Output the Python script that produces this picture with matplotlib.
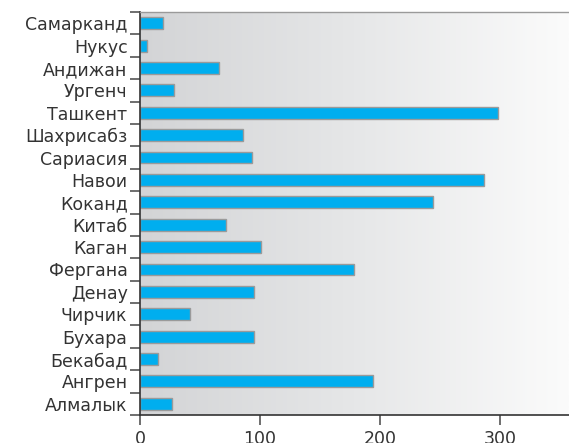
import numpy as np
import matplotlib

matplotlib.use("Agg")
import matplotlib.pyplot as plt  # noqa: E402

# data, top to bottom as in the picture
cities = [
    "Самарканд", "Нукус", "Андижан", "Ургенч", "Ташкент", "Шахрисабз",
    "Сариасия", "Навои", "Коканд", "Китаб", "Каган", "Фергана",
    "Денау", "Чирчик", "Бухара", "Бекабад", "Ангрен", "Алмалык",
]
values = [19, 6, 66, 28, 298, 86, 93, 287, 244, 72, 101, 178,
          95, 42, 95, 15, 194, 27]
x_ticks = [0, 100, 200, 300]

plt.rcParams["font.family"] = ["DejaVu Sans"]

fig = plt.figure(figsize=(5.69, 4.43), dpi=100)
ax = fig.add_axes([140 / 569, 28 / 443, 429 / 569, 403 / 443])

n = len(cities)
xmax = 357.5
ax.set_xlim(0, xmax)
ax.set_ylim(n - 0.5, -0.5)

# gradient background: gray on the left fading to white on the right
grad = np.linspace(0, 1, 256).reshape(1, -1)
cmap = matplotlib.colors.LinearSegmentedColormap.from_list(
    "bg", ["#d3d4d6", "#e6e7e8", "#fbfbfb"])
ax.imshow(grad, extent=[0, xmax, n - 0.5, -0.5], aspect="auto",
          cmap=cmap, zorder=0)

ax.barh(range(n), values, height=0.53, color="#00aeef",
        edgecolor="#9a9a9a", linewidth=1.0, zorder=2)

# category ticks sit between rows
ax.set_yticks(np.arange(n))
ax.set_yticklabels(cities, fontsize=12.5, color="#333333")
ax.set_yticks(np.arange(n + 1) - 0.5, minor=True)
ax.tick_params(axis="y", which="major", length=0, pad=9)
ax.tick_params(axis="y", which="minor", length=7, width=1.2, color="#555555")

ax.set_xticks(x_ticks)
ax.set_xticklabels([str(t) for t in x_ticks], fontsize=12.5, color="#333333")
ax.tick_params(axis="x", length=7, width=1.2, color="#555555", pad=4)

for side in ["left", "bottom"]:
    ax.spines[side].set_color("#333333")
    ax.spines[side].set_linewidth(1.2)
ax.spines["top"].set_color("#9a9a9a")
ax.spines["top"].set_linewidth(1.0)
ax.spines["right"].set_visible(False)

fig.savefig("out.png", dpi=100)
